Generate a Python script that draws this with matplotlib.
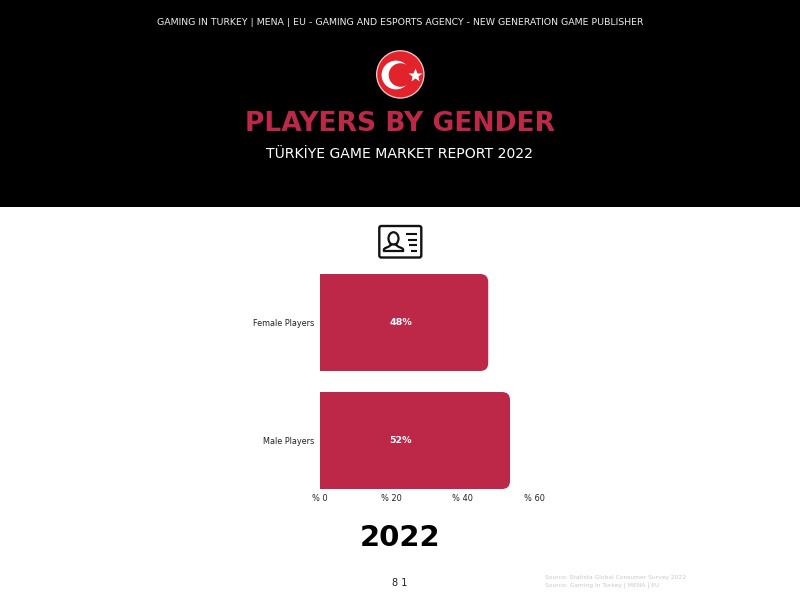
import matplotlib
matplotlib.use("Agg")
import matplotlib.pyplot as plt
from matplotlib.path import Path
from matplotlib.patches import PathPatch, Circle, Rectangle, FancyBboxPatch, Ellipse

categories = ["Female Players", "Male Players"]
bar_lengths = [47.1, 53.2]
bar_labels = ["48%", "52%"]
x_ticks = [0, 20, 40, 60]

header = "GAMING IN TURKEY | MENA | EU - GAMING AND ESPORTS AGENCY - NEW GENERATION GAME PUBLISHER"
title = "PLAYERS BY GENDER"
subtitle = "TÜRKİYE GAME MARKET REPORT 2022"
year = "2022"
page = "8 1"
sources = ["Source: Statista Global Consumer Survey 2022", "Source: Gaming In Turkey | MENA | EU"]

RED = "#BD2848"
FONT = "DejaVu Sans"
W, H = 800, 600

fig = plt.figure(figsize=(8, 6), dpi=100, facecolor="white")

# pixel-coordinate backdrop
bg = fig.add_axes([0, 0, 1, 1])
bg.set_xlim(0, W)
bg.set_ylim(H, 0)
bg.axis("off")
bg.add_patch(Rectangle((0, 0), W, 207, fc="black", ec="none"))

# flag emblem
bg.add_patch(Circle((400.3, 74.4), 24.3, fc="#F3C4C4", ec="none"))
bg.add_patch(Circle((400.3, 74.4), 23.0, fc="#E2232B", ec="none"))
bg.add_patch(Circle((396.0, 75), 14.4, fc="white", ec="none"))
bg.add_patch(Circle((400.5, 75), 11.8, fc="#E2232B", ec="none"))
bg.plot([415], [74.8], marker="*", ms=10, mfc="white", mec="none", ls="none")

# ID card icon
bg.add_patch(FancyBboxPatch((379.3, 226), 42, 31.5, boxstyle="round,pad=0,rounding_size=2",
                            fc="white", ec="#111111", lw=1.7))
bg.add_patch(Ellipse((393.5, 238.5), 10, 12.5, fc="none", ec="#111111", lw=1.6))
sh = Path([(384, 251), (382.5, 247), (390, 248), (390.5, 244.5),
           (396.5, 244.5), (397, 248), (404.5, 247), (403, 251), (384, 251)],
          [Path.MOVETO, Path.CURVE4, Path.CURVE4, Path.CURVE4,
           Path.LINETO, Path.CURVE4, Path.CURVE4, Path.CURVE4, Path.CLOSEPOLY])
bg.add_patch(PathPatch(sh, fc="white", ec="#111111", lw=1.6))
for x0, y0 in [(406, 234), (408, 239.5), (409, 245), (411, 250.6)]:
    bg.plot([x0, 416.5], [y0, y0], color="#111111", lw=1.5, solid_capstyle="butt")

# texts
bg.text(400, 22.5, header, ha="center", va="center", color="#EDEDED", family=FONT, fontsize=6.75)
bg.text(400, 124, title, ha="center", va="center", color=RED, family=FONT, fontsize=19.1, fontweight="bold")
bg.text(400, 154, subtitle, ha="center", va="center", color="white", family=FONT, fontsize=10.1)
bg.text(400, 537.5, year, ha="center", va="center", color="black", family=FONT, fontsize=21, fontweight="bold")
bg.text(400, 583.5, page, ha="center", va="center", color="#222222", family=FONT, fontsize=7)
bg.text(545, 577, sources[0], ha="left", va="center", color="#C9C9C9", family=FONT, fontsize=4.3)
bg.text(545, 585, sources[1], ha="left", va="center", color="#C9C9C9", family=FONT, fontsize=4.3)

# chart axes: x 0 at 320px, 60 at 534.3px; y band 263.5..499.5px
left, right = 320.0, 534.3
top, bottom = 263.5, 499.5
ax = fig.add_axes([left / W, 1 - bottom / H, (right - left) / W, (bottom - top) / H])
ax.patch.set_alpha(0)
ax.set_xlim(x_ticks[0], x_ticks[-1])
ax.set_ylim(1.5, -0.5)
for s in ax.spines.values():
    s.set_visible(False)

bar_h = 97 / 118.0
rx = 8 / ((right - left) / 60)
ry = 8 / ((bottom - top) / 2)
for i, (v, lab) in enumerate(zip(bar_lengths, bar_labels)):
    y0, y1 = i - bar_h / 2, i + bar_h / 2
    verts = [(0, y0), (v - rx, y0), (v, y0), (v, y0 + ry), (v, y1 - ry), (v, y1), (v - rx, y1), (0, y1), (0, y0)]
    codes = [Path.MOVETO, Path.LINETO, Path.CURVE3, Path.CURVE3, Path.LINETO,
             Path.CURVE3, Path.CURVE3, Path.LINETO, Path.CLOSEPOLY]
    ax.add_patch(PathPatch(Path(verts, codes), fc=RED, ec="none"))
    ax.text(22.6, i, lab, ha="center", va="center", color="white", family=FONT,
            fontsize=6.8, fontweight="bold")

ax.set_yticks(range(len(categories)))
ax.set_yticklabels(categories, family=FONT, fontsize=5.9, color="#222222")
ax.set_xticks(x_ticks)
ax.set_xticklabels([f"% {t}" for t in x_ticks], family=FONT, fontsize=5.9, color="#222222")
ax.tick_params(axis="both", length=0)
ax.tick_params(axis="y", pad=4.2)
ax.tick_params(axis="x", pad=-4.2)

fig.savefig("out.png", dpi=100, facecolor="white")
